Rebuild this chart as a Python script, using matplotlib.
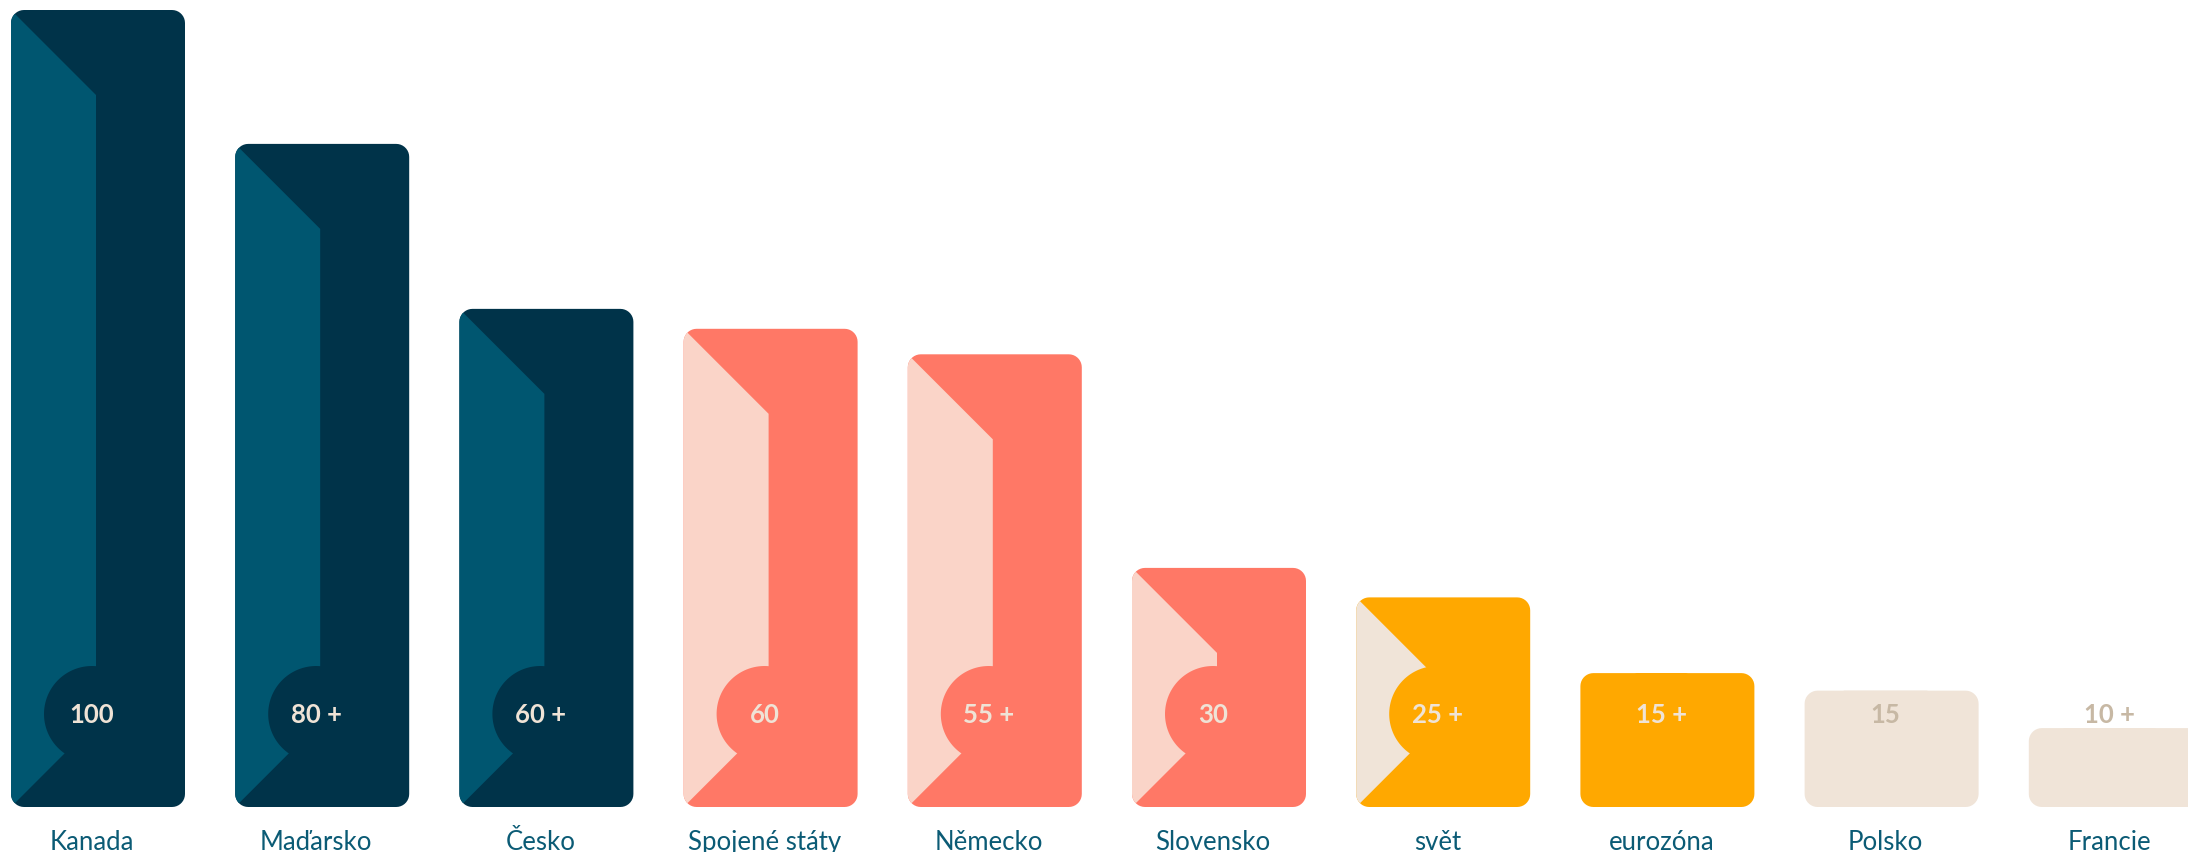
import matplotlib
matplotlib.use("Agg")
import matplotlib.pyplot as plt
from matplotlib.patches import Polygon
import numpy as np

# ---- data ----
categories = ["Kanada", "Maďarsko", "Česko", "Spojené státy", "Německo",
              "Slovensko", "svět", "eurozóna", "Polsko", "Francie"]
values = [100, 83.2, 62.5, 60, 56.8, 30, 26.3, 16.8, 14.6, 9.9]
value_labels = ["100", "80 +", "60 +", "60", "55 +", "30", "25 +", "15 +", "15", "10 +"]
bar_colors = ["#003349"] * 3 + ["#FF7866"] * 3 + ["#FFA800"] * 2 + ["#F0E4D8"] * 2
strip_colors = ["#005670"] * 3 + ["#FAD4C8"] * 3 + ["#F0E4D8", None, None, None]
value_label_colors = ["#EFE3D6"] * 8 + ["#C7B8A4"] * 2

# ---- style (pixels) ----
W, H, DPI = 2188, 852, 100
BASE_PX = 45          # bar baseline from figure bottom
PITCH_PX = 224.2      # distance between bars
BAR_W_PX = 174
STRIP_W_PX = 85
CORNER_PX = 13
CIRC_DX, CIRC_DY, CIRC_R = 81, 93, 48
LABEL_DX = 81
PX_PER_UNIT = 7.97
FIRST_CENTER_PX = 98

plt.rcParams['font.family'] = ['Lato', 'DejaVu Sans']

fig = plt.figure(figsize=(W / DPI, H / DPI), dpi=DPI)
fig.patch.set_facecolor("white")
ax = fig.add_axes([0, BASE_PX / H, 1, 1 - BASE_PX / H])
ax.set_xlim(-FIRST_CENTER_PX / PITCH_PX, (W - FIRST_CENTER_PX) / PITCH_PX)
ax.set_ylim(0, (H - BASE_PX) / PX_PER_UNIT)
ax.axis("off")

# pixel->data scale factors derived from the axes
ax_w_px = W * 1.0
ax_h_px = H * (1 - BASE_PX / H)
x0, x1 = ax.get_xlim()
y0, y1 = ax.get_ylim()
sx = ax_w_px / (x1 - x0)
sy = ax_h_px / (y1 - y0)


def rounded_rect(w, h, r, n=10):
    r = min(r, w / 2, h / 2)
    pts = []
    corners = [(w - r, h - r, 0, 90), (r, h - r, 90, 180),
               (r, r, 180, 270), (w - r, r, 270, 360)]
    for cx, cy, a0, a1 in corners:
        for a in np.linspace(np.radians(a0), np.radians(a1), n):
            pts.append((cx + r * np.cos(a), cy + r * np.sin(a)))
    return np.array(pts)


def to_data(pts, left):
    pts = np.asarray(pts, dtype=float)
    return np.column_stack([left + pts[:, 0] / sx, pts[:, 1] / sy])


for i, (val, lab) in enumerate(zip(values, value_labels)):
    left = i - (BAR_W_PX / 2) / sx
    h_px = val * sy
    bar = Polygon(to_data(rounded_rect(BAR_W_PX, h_px, CORNER_PX), left),
                  closed=True, facecolor=bar_colors[i], edgecolor="none", zorder=1)
    ax.add_patch(bar)

    if strip_colors[i] is not None:
        c = STRIP_W_PX
        if h_px >= 2 * c:
            spts = [(0, 0), (c, c), (c, h_px - c), (0, h_px)]
        else:
            spts = [(0, 0), (h_px / 2, h_px / 2), (0, h_px)]
        spts = [(-2, 0)] + spts + [(-2, h_px)]
        strip = Polygon(to_data(spts, left), closed=True,
                        facecolor=strip_colors[i], edgecolor="none", zorder=2)
        ax.add_patch(strip)
        strip.set_clip_path(bar)

    t = np.linspace(0, 2 * np.pi, 120)
    cpts = np.column_stack([CIRC_DX + CIRC_R * np.cos(t), CIRC_DY + CIRC_R * np.sin(t)])
    circ = Polygon(to_data(cpts, left), closed=True,
                   facecolor=bar_colors[i], edgecolor="none", zorder=3)
    ax.add_patch(circ)
    circ.set_clip_path(bar)

    ax.text(left + LABEL_DX / sx, 84 / sy, lab, ha="center", va="baseline",
            fontsize=18.5, fontweight="bold", color=value_label_colors[i], zorder=5)

    ax.text(left + LABEL_DX / sx, -43 / sy, categories[i], ha="center", va="baseline",
            fontsize=18.5, color="#0B5B75", zorder=5, clip_on=False)

fig.savefig("out.png", dpi=DPI, facecolor="white")
